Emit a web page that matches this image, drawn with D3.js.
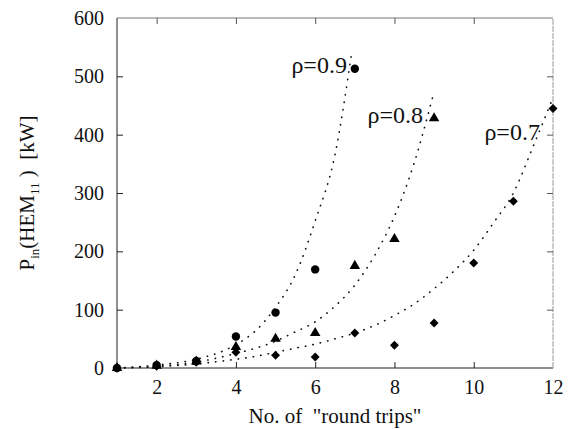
<!DOCTYPE html>
<html>
<head>
<meta charset="utf-8">
<script src="https://cdn.jsdelivr.net/npm/d3@7"></script>
<style>
  html, body { margin: 0; padding: 0; background: #fff; }
  svg { display: block; }
  text { font-family: "Liberation Serif", "DejaVu Serif", serif; fill: #111; }
</style>
</head>
<body>
<svg id="chart" width="579" height="429"></svg>
<script>
// ---- data ----
const xTicks = [2, 4, 6, 8, 10, 12];
const yTicks = [0, 100, 200, 300, 400, 500, 600];

// measured points [round trips, P_in kW]
const rho09Points = [[1, 0], [2, 5], [3, 12], [4, 54], [5, 95], [6, 169], [7, 513]];
const rho08Points = [[1, 0], [2, 4], [3, 11], [4, 36], [5, 50], [6, 60], [7, 175], [8, 221], [9, 428]];
const rho07Points = [[1, 0], [2, 3], [3, 10], [4, 27], [5, 22], [6, 19], [7, 60], [8, 39], [9, 77], [10, 180], [11, 286], [12, 445]];

// fitted (dotted) curves
const rho09Curve = [[1, 0], [2, 5], [3, 15], [4, 40], [4.5, 64], [5, 104], [5.5, 160], [6, 252], [6.5, 366], [6.93, 545]];
const rho08Curve = [[1, 0], [2, 3], [3, 10], [4, 25], [4.5, 34], [5, 46], [5.5, 62], [6, 79], [6.5, 106], [7, 142], [7.5, 193], [8, 260], [8.5, 352], [8.97, 466]];
const rho07Curve = [[1, 0], [2, 2], [3, 7], [4, 15], [4.5, 20], [5, 27], [5.5, 34], [6, 41], [6.5, 50], [7, 60], [7.5, 73], [8, 90], [8.5, 110], [9, 136], [9.5, 166], [10, 202], [10.5, 249], [11, 300], [11.5, 380], [11.95, 455]];

const seriesLabels = ["\u03c1=0.9", "\u03c1=0.8", "\u03c1=0.7"];
const labelAnchors = [[6.80, 506], [8.72, 420], [11.67, 391]]; // data units, text end

// ---- layout ----
const svg = d3.select("#chart");
const x = d3.scaleLinear().domain([1, 12]).range([117, 553]);
const y = d3.scaleLinear().domain([0, 600]).range([368, 18]);

const serif = '"Liberation Serif", "DejaVu Serif", serif';
const frameColor = "#222";
const g = svg.append("g");

// frame
g.append("line").attr("x1", x(1)).attr("x2", x(12)).attr("y1", y(0)).attr("y2", y(0)).attr("stroke", frameColor).attr("stroke-width", 1.2);
g.append("line").attr("x1", x(1)).attr("x2", x(1)).attr("y1", y(0)).attr("y2", y(600)).attr("stroke", frameColor).attr("stroke-width", 1);
g.append("line").attr("x1", x(1)).attr("x2", x(12)).attr("y1", y(600)).attr("y2", y(600)).attr("stroke", "#777").attr("stroke-width", 1);
g.append("line").attr("x1", x(12)).attr("x2", x(12)).attr("y1", y(0)).attr("y2", y(600)).attr("stroke", "#999").attr("stroke-width", 1).attr("stroke-dasharray", "6 1");

// axes (ticks inside, with labels)
const xAxis = d3.axisBottom(x).tickValues(xTicks).tickSize(-6).tickPadding(12).tickFormat(d3.format("d"));
const yAxis = d3.axisLeft(y).tickValues(yTicks).tickSize(-6).tickPadding(13).tickFormat(d3.format("d"));
const gx = g.append("g").attr("transform", `translate(0,${y(0)})`).call(xAxis);
const gy = g.append("g").attr("transform", `translate(${x(1)},0)`).call(yAxis);
[gx, gy].forEach(a => {
  a.attr("font-family", serif);
  a.select(".domain").remove();
  a.selectAll(".tick line").attr("stroke", frameColor);
  a.selectAll("text").attr("font-size", 20).attr("fill", "#111").attr("font-family", serif);
});
gx.selectAll(".tick").filter(d => d === 12).select("line").remove();
gy.selectAll(".tick").filter(d => d === 0 || d === 600).select("line").remove();

// top & right inner ticks
const gtop = g.append("g").attr("transform", `translate(0,${y(600)})`)
  .call(d3.axisTop(x).tickValues(xTicks.filter(d => d < 12)).tickSize(-6).tickFormat(""));
gtop.select(".domain").remove();
gtop.selectAll(".tick line").attr("stroke", "#555");
const gright = g.append("g").attr("transform", `translate(${x(12)},0)`)
  .call(d3.axisRight(y).tickValues(yTicks.filter(d => d > 0 && d < 600)).tickSize(-6).tickFormat(""));
gright.select(".domain").remove();
gright.selectAll(".tick line").attr("stroke", "#555");

// dotted fitted curves
const line = d3.line().x(d => x(d[0])).y(d => y(d[1])).curve(d3.curveMonotoneX);
[rho09Curve, rho08Curve, rho07Curve].forEach(c => {
  g.append("path").attr("d", line(c)).attr("fill", "none")
    .attr("stroke", "#111").attr("stroke-width", 1.6)
    .attr("stroke-linecap", "round").attr("stroke-dasharray", "0.4 7.2");
});

// markers
g.selectAll(".c09").data(rho09Points).join("circle")
  .attr("cx", d => x(d[0])).attr("cy", d => y(d[1])).attr("r", 4.2).attr("fill", "#000");
const tri = d3.symbol().type(d3.symbolTriangle).size(48);
g.selectAll(".t08").data(rho08Points).join("path")
  .attr("d", tri).attr("transform", d => `translate(${x(d[0])},${y(d[1])})`).attr("fill", "#000");
const dia = d3.symbol().type(d3.symbolSquare).size(40);
g.selectAll(".d07").data(rho07Points).join("path")
  .attr("d", dia).attr("transform", d => `translate(${x(d[0])},${y(d[1])}) rotate(45)`).attr("fill", "#000");

// curve labels
seriesLabels.forEach((t, i) => {
  g.append("text").attr("x", x(labelAnchors[i][0])).attr("y", y(labelAnchors[i][1]))
    .attr("text-anchor", "end").attr("font-size", 24).attr("font-family", serif).text(t);
});

// axis titles
svg.append("text").attr("x", (x(1) + x(12)) / 2).attr("y", 423)
  .attr("text-anchor", "middle").attr("font-size", 21).attr("font-family", serif)
  .style("white-space", "pre").text('No. of  "round trips"');

const yt = svg.append("text").attr("transform", `translate(34,${(y(0) + y(600)) / 2}) rotate(-90)`)
  .attr("text-anchor", "middle").attr("font-size", 21).attr("font-family", serif).style("white-space", "pre");
yt.append("tspan").text("P");
yt.append("tspan").attr("dy", 5).attr("font-size", 13).text("in");
yt.append("tspan").attr("dy", -5).text("(HEM");
yt.append("tspan").attr("dy", 5).attr("font-size", 13).text("11");
yt.append("tspan").attr("dy", -5).text(" )  [kW]");
</script>
</body>
</html>
